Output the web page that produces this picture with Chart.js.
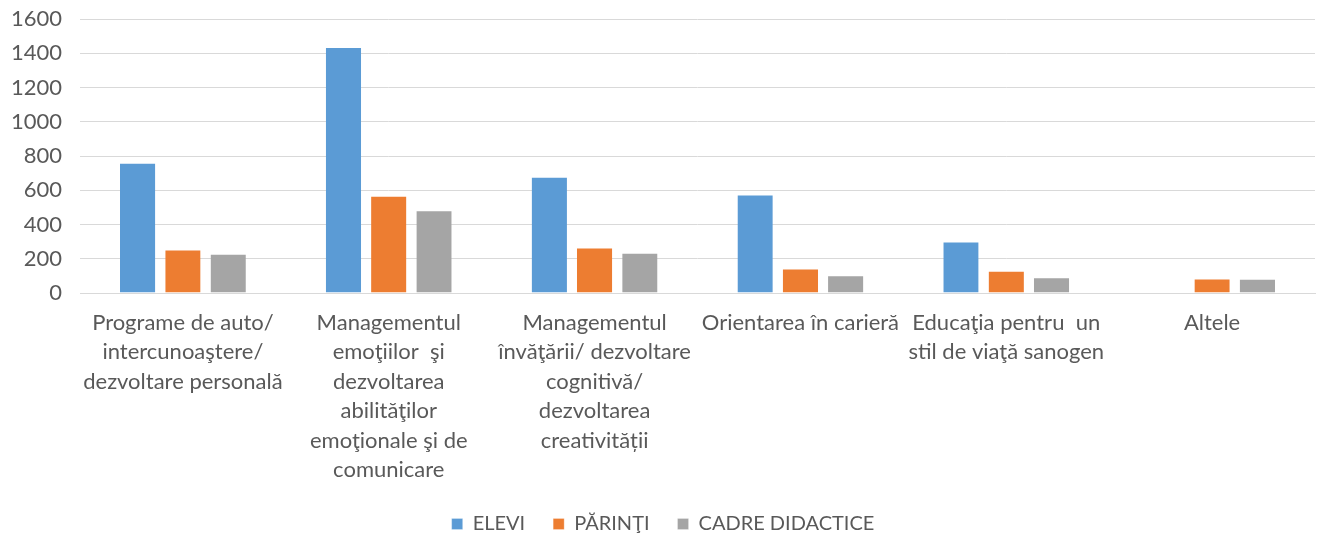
<!DOCTYPE html>
<html>
<head>
<meta charset="utf-8">
<script src="https://cdn.jsdelivr.net/npm/chart.js@4.4.0/dist/chart.umd.min.js"></script>
<style>
html,body{margin:0;padding:0;background:#fff;}
#wrap{width:1320px;height:536px;}
</style>
</head>
<body>
<div id="wrap"><canvas id="c" width="1320" height="536"></canvas></div>
<script>
const categories = [
  ["Programe de auto/", "intercunoaştere/", "dezvoltare personală"],
  ["Managementul", "emoţiilor  şi", "dezvoltarea", "abilităţilor", "emoţionale şi de", "comunicare"],
  ["Managementul", "învăţării/ dezvoltare", "cognitivă/", "dezvoltarea", "creativității"],
  ["Orientarea în carieră"],
  ["Educaţia pentru  un", "stil de viaţă sanogen"],
  ["Altele"]
];
const elevi = [761, 1436, 679, 575, 302, 0];
const parinti = [254, 568, 266, 144, 131, 86];
const cadre = [230, 484, 236, 105, 92, 84];
const seriesNames = ["ELEVI", "PĂRINŢI", "CADRE DIDACTICE"];
const yTicks = [0, 200, 400, 600, 800, 1000, 1200, 1400, 1600];

const FONT = "Lato, 'Open Sans', sans-serif";
const TXT = "#595959";

new Chart(document.getElementById('c'), {
  type: 'bar',
  data: {
    labels: categories,
    datasets: [
      {label: seriesNames[0], data: elevi, backgroundColor: '#5B9BD5', borderColor:'#ffffff', borderWidth:{left:0,right:0,top:1,bottom:0}},
      {label: seriesNames[1], data: parinti, backgroundColor: '#ED7D31', borderColor:'#ffffff', borderWidth:{left:0,right:0,top:1,bottom:0}},
      {label: seriesNames[2], data: cadre, backgroundColor: '#A5A5A5', borderColor:'#ffffff', borderWidth:{left:0,right:0,top:1,bottom:0}}
    ]
  },
  options: {
    responsive: false,
    animation: false,
    devicePixelRatio: 1,
    layout: {padding: {left: 11, right: 5, top: 19, bottom: -8}},
    datasets: {bar: {categoryPercentage: 0.66, barPercentage: 0.78}},
    plugins: {
      tooltip: {enabled: false},
      legend: {
        position: 'bottom',
        labels: {
          font: {family: FONT, size: 20},
          color: TXT,
          boxWidth: 11,
          boxHeight: 11,
          padding: 28
        }
      }
    },
    scales: {
      x: {
        grid: {display: false, drawTicks: false},
        border: {display: true, color: '#d9d9d9', width: 1},
        afterFit: (axis) => { axis.height -= 14; },
        ticks: {
          autoSkip: false,
          maxRotation: 0,
          minRotation: 0,
          padding: 15,
          color: TXT,
          font: {family: FONT, size: 22, lineHeight: 1.34}
        }
      },
      y: {
        min: 0,
        max: 1600,
        afterBuildTicks: (axis) => { axis.ticks = yTicks.map(v => ({value: v})); },
        afterFit: (axis) => { axis.width = 69; },
        grid: {color: '#d9d9d9', lineWidth: 1, drawTicks: true, tickLength: 18, tickColor: 'rgba(0,0,0,0)'},
        border: {display: false},
        ticks: {
          padding: 0,
          color: TXT,
          font: {family: FONT, size: 22},
          callback: (v) => String(v)
        }
      }
    }
  }
});
</script>
</body>
</html>
